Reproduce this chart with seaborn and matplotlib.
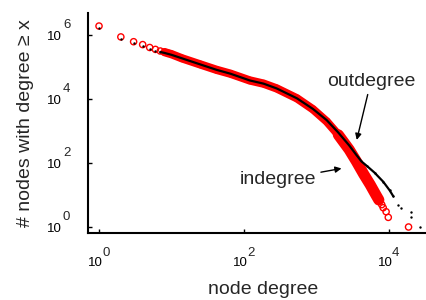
import matplotlib
matplotlib.use("Agg")
import matplotlib.pyplot as plt
from matplotlib.ticker import NullLocator
from matplotlib.transforms import ScaledTranslation
import numpy as np
import pandas as pd
import seaborn as sns

# ---- data (degree, # nodes with degree >= x) ----
in_degree = [1, 2, 3, 4, 5, 6, 7, 8, 9, 10, 14, 25, 42, 65, 120, 186, 282, 537,
             891, 1380, 2000, 2820, 3550, 4470, 5500, 6610, 7240,
             7940, 8320, 9120, 9770, 18600]
in_count = [1905000, 871000, 617000, 501000, 407000, 355000, 316000, 292000,
            269000, 251000, 186000, 120000, 81300, 61700, 38000, 30200, 21400,
            10500, 4790, 1995, 759, 263, 112, 45, 21, 10, 7,
            5, 4, 3, 2, 1]

out_degree = [1, 2, 3, 4, 5, 6, 7, 8, 9, 10, 14, 25, 42, 65, 120, 186, 282, 537,
              891, 1380, 2000, 2820, 3550, 4170, 5010, 6310, 8320, 10200, 11500,
              13500, 14500, 20000, 20400, 26900]
out_count = [1622000, 776000, 550000, 447000, 372000, 324000, 295000, 275000,
             256000, 240000, 186000, 120000, 81300, 61700, 38000, 30200, 21400,
             10500, 4900, 2190, 891, 355, 178, 112, 79, 50, 26, 14, 9, 5, 4, 3,
             2, 1]

x_ticks = [1, 100, 10000]
x_exps = ["0", "2", "4"]
y_ticks = [1, 100, 10000, 1000000]
y_exps = ["0", "2", "4", "6"]

sns.set_style("ticks")
plt.rcParams["font.family"] = ["Liberation Sans", "DejaVu Sans"]

W, H = 427, 300
fig = plt.figure(figsize=(W / 100, H / 100), dpi=100)
ax = fig.add_axes([88 / W, 67 / H, 1 - 88 / W, (233 - 13) / H])
ax.set_xscale("log")
ax.set_yscale("log")

df_in = pd.DataFrame({"degree": in_degree, "count": in_count})
df_out = pd.DataFrame({"degree": out_degree, "count": out_count})

band_in = df_in[(df_in.degree >= 8) & (df_in.degree <= 7240)]
steep_in = df_in[(df_in.degree >= 2000) & (df_in.degree <= 7240)]
band_out = df_out[(df_out.degree >= 7) & (df_out.degree <= 11500)]

sns.lineplot(data=band_in, x="degree", y="count", color="red", lw=6,
             solid_capstyle="round", solid_joinstyle="round", estimator=None, ax=ax)
sns.lineplot(data=steep_in, x="degree", y="count", color="red", lw=8,
             solid_capstyle="round", solid_joinstyle="round", estimator=None, ax=ax)
sns.scatterplot(data=df_in, x="degree", y="count", marker="o", s=20,
                facecolors="none", edgecolor="red", linewidth=1.0, ax=ax)
sns.lineplot(data=band_out, x="degree", y="count", color="black", lw=1.6,
             estimator=None, ax=ax)
sns.scatterplot(data=df_out, x="degree", y="count", marker="o", s=3,
                color="black", linewidth=0, ax=ax)

ax.set_xlim(10 ** -0.152, 10 ** 4.524)
ax.set_ylim(10 ** -0.1875, 10 ** 6.6875)

for s in ["top", "right"]:
    ax.spines[s].set_visible(False)
for s in ["left", "bottom"]:
    ax.spines[s].set_linewidth(1.5)
    ax.spines[s].set_color("black")

ax.set_xticks(x_ticks)
ax.set_xticklabels(["10"] * len(x_ticks))
ax.set_yticks(y_ticks)
ax.set_yticklabels(["10"] * len(y_ticks))
ax.xaxis.set_minor_locator(NullLocator())
ax.yaxis.set_minor_locator(NullLocator())
ax.tick_params(axis="both", direction="in", length=3, width=1, labelsize=9.5,
               colors="black")
ax.tick_params(axis="x", pad=17)
ax.tick_params(axis="y", pad=18.5)

shift = ScaledTranslation(-3.5 / 100, 0, fig.dpi_scale_trans)
for lbl in ax.get_xticklabels():
    lbl.set_transform(lbl.get_transform() + shift)

for t, e in zip(x_ticks, x_exps):
    ax.annotate(e, xy=(t, 0), xycoords=("data", "axes fraction"),
                xytext=(3, -20), textcoords="offset pixels",
                ha="left", va="center", fontsize=9.5)
for t, e in zip(y_ticks, y_exps):
    ax.annotate(e, xy=(0, t), xycoords=("axes fraction", "data"),
                xytext=(-25, 10), textcoords="offset pixels",
                ha="left", va="center", fontsize=9.5)

ax.set_xlabel("node degree", fontsize=14)
ax.set_ylabel("# nodes with degree \u2265 x", fontsize=14)
ax.xaxis.set_label_coords((263 - 88) / (W - 88), -(281 - 233) / 220)
ax.yaxis.set_label_coords((34 - 88) / (W - 88), 0.5)

arrow = dict(arrowstyle="-|>", color="black", lw=1.0, mutation_scale=9,
             shrinkA=1, shrinkB=0)
ax.annotate("outdegree", xy=(10 ** 3.555, 10 ** 2.72),
            xytext=(10 ** 3.75, 10 ** 4.55), ha="center", va="center",
            fontsize=14, arrowprops=arrow)
ax.annotate("indegree", xy=(10 ** 3.345, 10 ** 1.83),
            xytext=(10 ** 2.469, 10 ** 1.469), ha="center", va="center",
            fontsize=14, arrowprops=arrow)

fig.savefig("out.png", dpi=100)
